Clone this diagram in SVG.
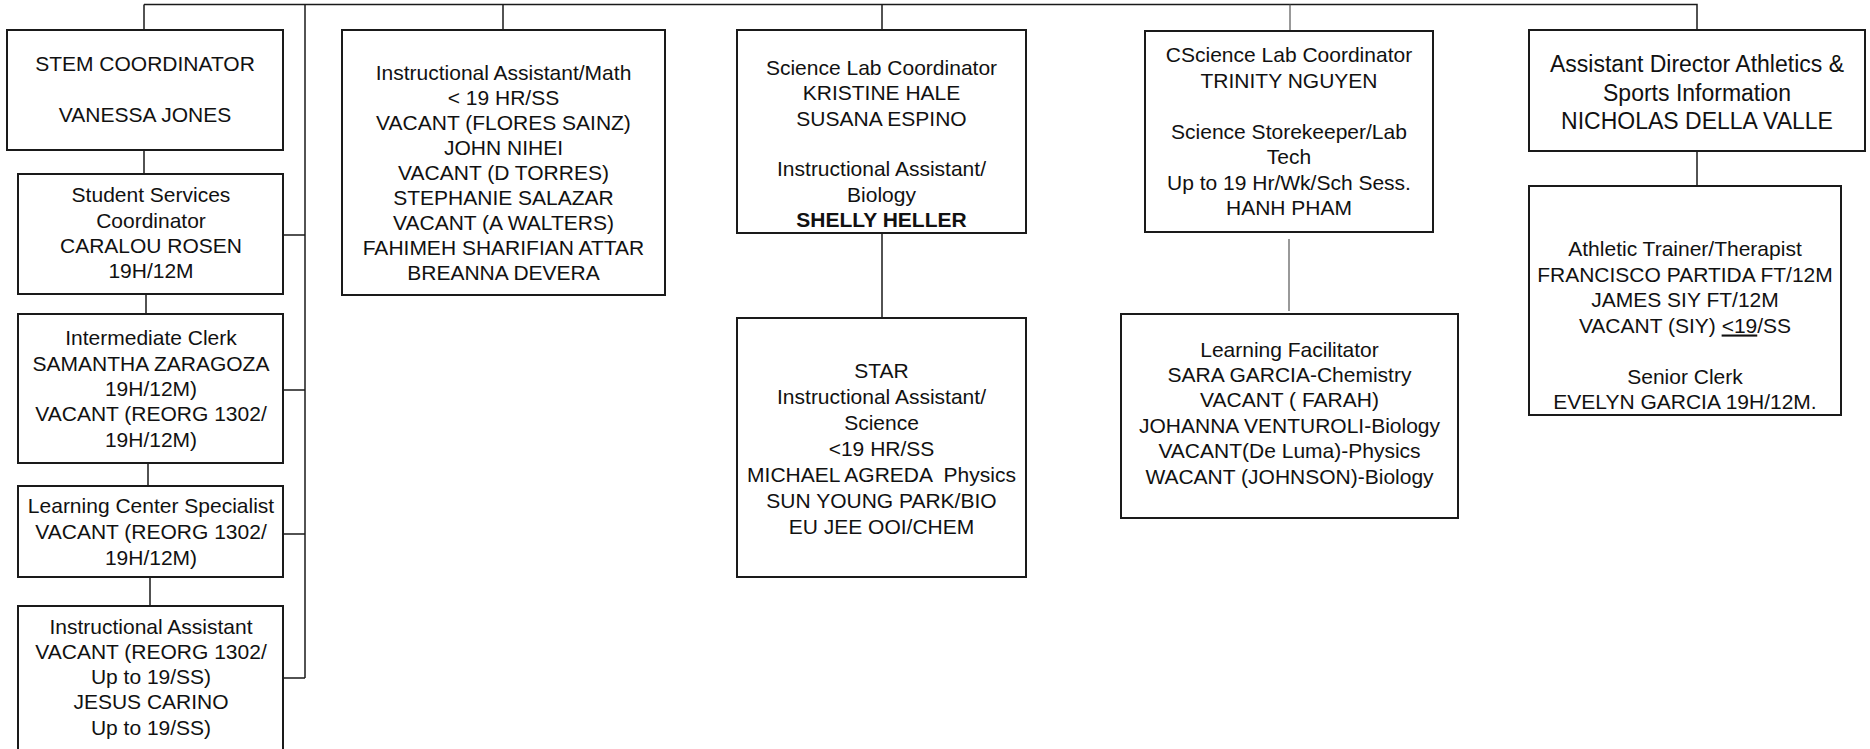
<svg xmlns="http://www.w3.org/2000/svg" width="1870" height="749" viewBox="0 0 1870 749">
<style>
.box{fill:#fff;stroke:#1a1a1a;stroke-width:2}
.ln{fill:none;stroke:#1a1a1a;stroke-width:1.5}
.thin{fill:none;stroke:#555;stroke-width:1.2}
text{font-family:"Liberation Sans",Arial,sans-serif;font-size:21px;fill:#111;text-anchor:middle}
.big{font-size:23px}
.b{font-weight:bold}
</style>
<rect width="1870" height="749" fill="#fff"/>
<g id="connectors">
<path class="ln" d="M144,4.5 H1697 V30"/>
<path class="ln" d="M144,4.5 V30"/>
<path class="ln" d="M503,4.5 V30"/>
<path class="ln" d="M882,4.5 V30"/>
<path class="thin" d="M1290,4.5 V30"/>
<path class="ln" d="M305,4.5 V678"/>
<path class="ln" d="M283,235 H305 M283,390 H305 M283,534 H305 M283,678 H305"/>
<path class="ln" d="M144,150 V174 M146,294 V314 M148,463 V486 M150,577 V606"/>
<path class="ln" d="M882,233 V318"/>
<path class="thin" d="M1289,239 V311"/>
<path class="ln" d="M1697,151 V186"/>
</g>
<g id="stem">
<rect class="box" x="7" y="30" width="276" height="120"/>
<text x="145" y="71">STEM COORDINATOR</text>
<text x="145" y="122">VANESSA JONES</text>
</g>
<g id="student-services">
<rect class="box" x="18" y="174" width="265" height="120"/>
<text x="151" y="202">Student Services</text>
<text x="151" y="228">Coordinator</text>
<text x="151" y="253">CARALOU ROSEN</text>
<text x="151" y="278">19H/12M</text>
</g>
<g id="intermediate-clerk">
<rect class="box" x="18" y="314" width="265" height="149"/>
<text x="151" y="345">Intermediate Clerk</text>
<text x="151" y="371">SAMANTHA ZARAGOZA</text>
<text x="151" y="396">19H/12M)</text>
<text x="151" y="421">VACANT (REORG 1302/</text>
<text x="151" y="447">19H/12M)</text>
</g>
<g id="learning-center">
<rect class="box" x="18" y="486" width="265" height="91"/>
<text x="151" y="513">Learning Center Specialist</text>
<text x="151" y="539">VACANT (REORG 1302/</text>
<text x="151" y="565">19H/12M)</text>
</g>
<g id="instructional-assistant">
<rect class="box" x="18" y="606" width="265" height="160"/>
<text x="151" y="633.5">Instructional Assistant</text>
<text x="151" y="659">VACANT (REORG 1302/</text>
<text x="151" y="684">Up to 19/SS)</text>
<text x="151" y="709">JESUS CARINO</text>
<text x="151" y="734.5">Up to 19/SS)</text>
</g>
<g id="ia-math">
<rect class="box" x="342" y="30" width="323" height="265"/>
<text x="503.5" y="79.5">Instructional Assistant/Math</text>
<text x="503.5" y="104.6">&lt; 19 HR/SS</text>
<text x="503.5" y="129.7">VACANT (FLORES SAINZ)</text>
<text x="503.5" y="154.8">JOHN NIHEI</text>
<text x="503.5" y="179.9">VACANT (D TORRES)</text>
<text x="503.5" y="205">STEPHANIE SALAZAR</text>
<text x="503.5" y="230.1">VACANT (A WALTERS)</text>
<text x="503.5" y="255.2">FAHIMEH SHARIFIAN ATTAR</text>
<text x="503.5" y="280.3">BREANNA DEVERA</text>
</g>
<g id="science-lab">
<rect class="box" x="737" y="30" width="289" height="203"/>
<text x="881.5" y="75">Science Lab Coordinator</text>
<text x="881.5" y="100">KRISTINE HALE</text>
<text x="881.5" y="126">SUSANA ESPINO</text>
<text x="881.5" y="176">Instructional Assistant/</text>
<text x="881.5" y="202">Biology</text>
<text x="881.5" y="227" class="b">SHELLY HELLER</text>
</g>
<g id="star">
<rect class="box" x="737" y="318" width="289" height="259"/>
<text x="881.5" y="377.5">STAR</text>
<text x="881.5" y="403.5">Instructional Assistant/</text>
<text x="881.5" y="429.5">Science</text>
<text x="881.5" y="455.5">&lt;19 HR/SS</text>
<text x="881.5" y="481.5" style="white-space:pre">MICHAEL AGREDA  Physics</text>
<text x="881.5" y="507.5">SUN YOUNG PARK/BIO</text>
<text x="881.5" y="533.5">EU JEE OOI/CHEM</text>
</g>
<g id="cscience-lab">
<rect class="box" x="1145" y="31" width="288" height="201"/>
<text x="1289" y="62">CScience Lab Coordinator</text>
<text x="1289" y="87.5">TRINITY NGUYEN</text>
<text x="1289" y="138.5">Science Storekeeper/Lab</text>
<text x="1289" y="164">Tech</text>
<text x="1289" y="189.5">Up to 19 Hr/Wk/Sch Sess.</text>
<text x="1289" y="215">HANH PHAM</text>
</g>
<g id="learning-facilitator">
<rect class="box" x="1121" y="314" width="337" height="204"/>
<text x="1289.5" y="356.5">Learning Facilitator</text>
<text x="1289.5" y="381.9">SARA GARCIA-Chemistry</text>
<text x="1289.5" y="407.3">VACANT ( FARAH)</text>
<text x="1289.5" y="432.7">JOHANNA VENTUROLI-Biology</text>
<text x="1289.5" y="458.1">VACANT(De Luma)-Physics</text>
<text x="1289.5" y="483.5">WACANT (JOHNSON)-Biology</text>
</g>
<g id="athletics-director">
<rect class="box" x="1529" y="30" width="336" height="121"/>
<text class="big" x="1697" y="72">Assistant Director Athletics &amp;</text>
<text class="big" x="1697" y="100.5">Sports Information</text>
<text class="big" x="1697" y="129">NICHOLAS DELLA VALLE</text>
</g>
<g id="athletic-trainer">
<rect class="box" x="1529" y="186" width="312" height="229"/>
<text x="1685" y="256">Athletic Trainer/Therapist</text>
<text x="1685" y="281.5">FRANCISCO PARTIDA FT/12M</text>
<text x="1685" y="307">JAMES SIY FT/12M</text>
<text x="1685" y="332.5">VACANT (SIY) <tspan text-decoration="underline">&lt;19</tspan>/SS</text>
<text x="1685" y="383.5">Senior Clerk</text>
<text x="1685" y="409">EVELYN GARCIA 19H/12M.</text>
</g>
</svg>
